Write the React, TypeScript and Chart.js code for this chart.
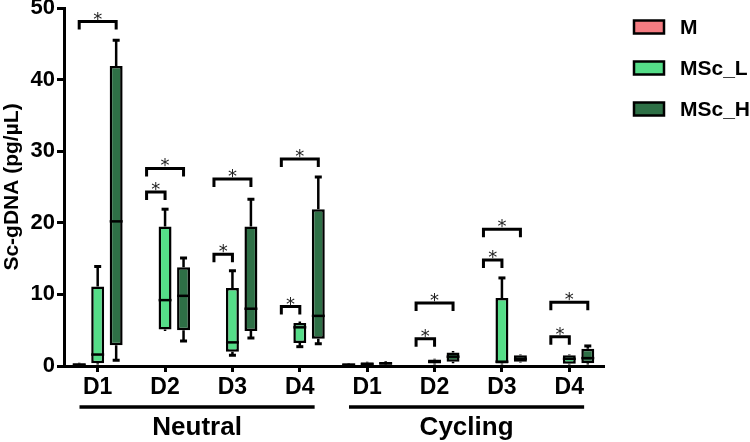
import React, { useEffect, useRef } from "react";
import { Chart, registerables } from "chart.js";
Chart.register(...registerables);

const categories = ["D1", "D2", "D3", "D4", "D1", "D2", "D3", "D4"];
const groupNames = ["Neutral", "Cycling"];
const groupFrom = [0, 4];
const groupTo = [3, 7];
const seriesNames = ["M", "MSc_L", "MSc_H"];
const seriesColors = ["#F47C82", "#55DD88", "#2E7046"];
const yTicks = [0, 10, 20, 30, 40, 50];

// [min, q1, median, q3, max]
const mStats: (number[] | null)[] = [
  [0.05, 0.1, 0.2, 0.35, 0.45], null, null, null,
  [0.05, 0.1, 0.2, 0.3, 0.4], null, null, null,
];
const lStats: (number[] | null)[] = [
  [0.2, 0.4, 1.6, 11.1, 13.9],
  [4.9, 5.1, 9.2, 19.5, 21.9],
  [1.5, 2.0, 3.3, 10.9, 13.3],
  [2.7, 3.2, 5.4, 6.0, 6.2],
  [0.05, 0.15, 0.3, 0.5, 0.6],
  [0.2, 0.35, 0.6, 0.9, 1.0],
  [0.2, 0.35, 0.6, 9.5, 12.3],
  [0.2, 0.3, 1.0, 1.5, 1.6],
];
const hStats: (number[] | null)[] = [
  [0.8, 2.9, 20.2, 41.9, 45.5],
  [3.5, 5.0, 9.8, 13.8, 15.1],
  [3.9, 4.9, 8.0, 19.5, 23.3],
  [3.1, 3.8, 7.0, 21.9, 26.4],
  [0.1, 0.2, 0.35, 0.55, 0.65],
  [0.4, 0.6, 1.3, 1.9, 2.1],
  [0.5, 0.6, 1.0, 1.5, 1.6],
  [0.2, 0.4, 1.1, 2.4, 2.8],
];
const allStats = [mStats, lStats, hStats];

// significance brackets: category index, target series index, height (value)
const bracketCat = [0, 1, 1, 2, 2, 3, 3, 5, 5, 6, 6, 7, 7];
const bracketTo = [2, 1, 2, 1, 2, 1, 2, 1, 2, 1, 2, 1, 2];
const bracketY = [48.1, 24.3, 27.6, 15.6, 26.1, 8.3, 28.9, 3.8, 8.8, 14.8, 19.1, 4.1, 8.9];

const FONT = "'Liberation Sans', Arial, sans-serif";

const boxPlugin = {
  id: "boxExtras",
  afterDatasetsDraw(chart: any) {
    const ctx = chart.ctx;
    const y = chart.scales.y;
    ctx.save();
    ctx.strokeStyle = "#000";
    allStats.forEach((stats, di) => {
      const meta = chart.getDatasetMeta(di);
      stats.forEach((s, i) => {
        if (!s) return;
        const el = meta.data[i];
        const x = el.x;
        const w = el.width;
        const pMin = y.getPixelForValue(s[0]);
        const pQ1 = y.getPixelForValue(s[1]);
        const pMed = y.getPixelForValue(s[2]);
        const pQ3 = y.getPixelForValue(s[3]);
        const pMax = y.getPixelForValue(s[4]);
        ctx.lineWidth = 2.5;
        ctx.beginPath();
        ctx.moveTo(x, pQ3);
        ctx.lineTo(x, pMax);
        ctx.moveTo(x, pQ1);
        ctx.lineTo(x, pMin);
        ctx.stroke();
        ctx.lineWidth = 3;
        ctx.beginPath();
        if (pQ3 - pMax > 1.5) {
          ctx.moveTo(x - 3.5, pMax);
          ctx.lineTo(x + 3.5, pMax);
        }
        if (pMin - pQ1 > 1.5) {
          ctx.moveTo(x - 3.5, pMin);
          ctx.lineTo(x + 3.5, pMin);
        }
        ctx.stroke();
        ctx.lineWidth = 2.5;
        ctx.beginPath();
        ctx.moveTo(x - w / 2, pMed);
        ctx.lineTo(x + w / 2, pMed);
        ctx.stroke();
      });
    });

    // brackets
    const metaL = chart.getDatasetMeta(1);
    const metaH = chart.getDatasetMeta(2);
    bracketCat.forEach((c, k) => {
      const xL = metaL.data[c].x;
      const xH = metaH.data[c].x;
      const xM = xL - (xH - xL);
      const xT = bracketTo[k] === 1 ? xL : xH;
      const py = y.getPixelForValue(bracketY[k]);
      ctx.lineWidth = 3;
      ctx.lineJoin = "miter";
      ctx.lineCap = "butt";
      ctx.beginPath();
      ctx.moveTo(xM, py + 8);
      ctx.lineTo(xM, py);
      ctx.lineTo(xT, py);
      ctx.lineTo(xT, py + 8);
      ctx.stroke();
      ctx.fillStyle = "#222";
      ctx.font = "18px 'DejaVu Sans', sans-serif";
      ctx.textAlign = "center";
      ctx.textBaseline = "alphabetic";
      ctx.fillText("*", (xM + xT) / 2, py + 3);
    });
    ctx.restore();
  },
  afterDraw(chart: any) {
    const ctx = chart.ctx;
    const xs = chart.scales.x;
    const area = chart.chartArea;
    ctx.save();
    // group labels
    const cw = xs.getPixelForValue(1) - xs.getPixelForValue(0);
    groupNames.forEach((g, k) => {
      const x1 = xs.getPixelForValue(groupFrom[k]) - cw * 0.27;
      const x2 = xs.getPixelForValue(groupTo[k]) + cw * 0.22;
      const ly = area.bottom + 41;
      ctx.strokeStyle = "#000";
      ctx.lineWidth = 3.5;
      ctx.beginPath();
      ctx.moveTo(x1, ly);
      ctx.lineTo(x2, ly);
      ctx.stroke();
      ctx.fillStyle = "#000";
      ctx.font = `bold 26px ${FONT}`;
      ctx.textAlign = "center";
      ctx.textBaseline = "middle";
      ctx.fillText(g, (x1 + x2) / 2, ly + 21);
    });
    // legend
    const lx = area.right + 31;
    chart.data.datasets.forEach((ds: any, i: number) => {
      const cy = area.top + 19 + i * 41;
      ctx.fillStyle = ds.backgroundColor;
      ctx.fillRect(lx, cy - 6.5, 30, 13);
      ctx.strokeStyle = "#000";
      ctx.lineWidth = 2.5;
      ctx.strokeRect(lx, cy - 6.5, 30, 13);
      ctx.fillStyle = "#000";
      ctx.font = `bold 21px ${FONT}`;
      ctx.textAlign = "left";
      ctx.textBaseline = "middle";
      ctx.fillText(ds.label, lx + 46, cy + 1);
    });
    ctx.restore();
  },
};

export default function App() {
  const ref = useRef<HTMLCanvasElement>(null);
  useEffect(() => {
    if (!ref.current) return;
    const chart = new Chart(ref.current, {
      type: "bar",
      data: {
        labels: categories,
        datasets: seriesNames.map((name, i) => ({
          label: name,
          data: allStats[i].map((s) => (s ? [s[1], s[3]] : null)) as any,
          backgroundColor: seriesColors[i],
          borderColor: "#000",
          borderWidth: 2.5,
          borderSkipped: false,
          categoryPercentage: 0.823,
          barPercentage: 0.7,
        })),
      },
      options: {
        responsive: false,
        animation: false,
        layout: { padding: { top: 8, right: 147, left: 0, bottom: 0 } },
        plugins: { legend: { display: false }, tooltip: { enabled: false } },
        scales: {
          x: {
            type: "category",
            offset: true,
            grid: {
              offset: false,
              drawOnChartArea: false,
              drawTicks: true,
              tickLength: 6,
              lineWidth: 3,
              color: "#000",
            },
            border: { display: true, width: 3, color: "#000" },
            ticks: {
              color: "#000",
              font: { family: FONT, size: 23, weight: "bold" },
              padding: 2,
              maxRotation: 0,
              autoSkip: false,
            },
            afterFit: (s: any) => {
              s.height = 76;
              s.paddingLeft = 0;
              s.paddingRight = 0;
            },
          },
          y: {
            min: 0,
            max: 50,
            afterBuildTicks: (s: any) => {
              s.ticks = yTicks.map((v) => ({ value: v }));
            },
            grid: {
              drawOnChartArea: false,
              drawTicks: true,
              tickLength: 7,
              lineWidth: 3,
              color: "#000",
            },
            border: { display: true, width: 3, color: "#000" },
            ticks: {
              color: "#000",
              font: { family: FONT, size: 22, weight: "bold" },
              padding: 2,
            },
            title: {
              display: true,
              text: "Sc-gDNA (pg/µL)",
              color: "#000",
              font: { family: FONT, size: 21, weight: "bold" },
              padding: { top: 0, bottom: 0 },
            },
            afterFit: (s: any) => {
              s.width = 64;
              s.paddingTop = 0;
              s.paddingBottom = 0;
            },
          },
        },
      },
      plugins: [boxPlugin],
    });
    return () => chart.destroy();
  }, []);
  return (
    <div style={{ position: "absolute", left: 0, top: 0, width: 750, height: 442, background: "#fff" }}>
      <canvas ref={ref} width={750} height={442} />
    </div>
  );
}
